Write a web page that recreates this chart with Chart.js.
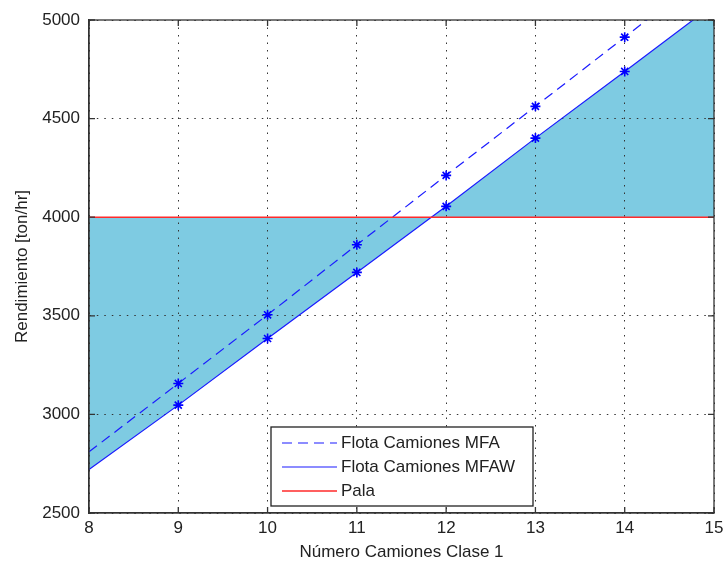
<!DOCTYPE html>
<html>
<head>
<meta charset="utf-8">
<script src="https://cdn.jsdelivr.net/npm/chart.js@4"></script>
<style>
	html, body { margin: 0; padding: 0; background: #fff; }
	#wrap { width: 724px; height: 563px; }
</style>
</head>
<body>
<div id="wrap"><canvas id="rendimiento"></canvas></div>
<script>
const camiones = [8, 9, 10, 11, 12, 13, 14, 15];
const flotaMFA = [2810, 3157, 3505, 3860, 4212, 4562, 4913, 5265];
const flotaMFAW = [2721, 3047, 3385, 3720, 4055, 4401, 4739, 5080];
const pala = [4000, 4000, 4000, 4000, 4000, 4000, 4000, 4000];
const xTicks = [8, 9, 10, 11, 12, 13, 14, 15];
const yTicks = [2500, 3000, 3500, 4000, 4500, 5000];

const font = { family: "'Liberation Sans', Arial, sans-serif", size: 17 };
const textColor = '#222';
const toPoints = (ys) => camiones.map((x, i) => ({ x, y: ys[i] }));
// estrellas solo en los puntos interiores
const starRadius = camiones.map((x) => (x === 8 || x === 15 ? 0 : 5));

// marco completo y marcas hacia adentro, estilo matlab
const boxPlugin = {
	id: 'box',
	afterDraw(chart) {
		const { ctx, chartArea: a, scales } = chart;
		ctx.save();
		ctx.strokeStyle = '#333';
		ctx.lineWidth = 1.3;
		ctx.strokeRect(a.left, a.top, a.right - a.left, a.bottom - a.top);
		ctx.beginPath();
		xTicks.forEach((v) => {
			const px = scales.x.getPixelForValue(v);
			ctx.moveTo(px, a.bottom); ctx.lineTo(px, a.bottom - 6);
			ctx.moveTo(px, a.top); ctx.lineTo(px, a.top + 6);
		});
		yTicks.forEach((v) => {
			const py = scales.y.getPixelForValue(v);
			ctx.moveTo(a.left, py); ctx.lineTo(a.left + 6, py);
			ctx.moveTo(a.right, py); ctx.lineTo(a.right - 6, py);
		});
		ctx.stroke();
		ctx.restore();
	},
};

// leyenda dentro del area del grafico
const legendPlugin = {
	id: 'innerLegend',
	afterDraw(chart) {
		const { ctx } = chart;
		const x0 = 271, y0 = 427, w = 262, h = 79;
		ctx.save();
		ctx.fillStyle = '#fff';
		ctx.fillRect(x0, y0, w, h);
		ctx.strokeStyle = '#222';
		ctx.lineWidth = 1.3;
		ctx.strokeRect(x0, y0, w, h);
		ctx.font = `${font.size}px ${font.family}`;
		ctx.textBaseline = 'middle';
		chart.data.datasets.forEach((ds, i) => {
			const y = y0 + 16 + i * 24;
			ctx.beginPath();
			ctx.setLineDash(ds.borderDash || []);
			ctx.strokeStyle = ds.borderColor;
			ctx.lineWidth = ds.borderWidth;
			ctx.moveTo(x0 + 11, y);
			ctx.lineTo(x0 + 66, y);
			ctx.stroke();
			ctx.setLineDash([]);
			ctx.fillStyle = textColor;
			ctx.fillText(ds.label, x0 + 70, y);
		});
		ctx.restore();
	},
};

new Chart(document.getElementById('rendimiento'), {
	type: 'line',
	data: {
		datasets: [
			{
				label: 'Flota Camiones MFA',
				data: toPoints(flotaMFA),
				borderColor: '#1a1aff',
				borderWidth: 1.2,
				borderDash: [10, 6],
				pointStyle: 'star',
				pointRadius: starRadius,
				pointBorderColor: '#0000ff',
				pointBorderWidth: 1.6,
				fill: false,
				order: 1,
			},
			{
				label: 'Flota Camiones MFAW',
				data: toPoints(flotaMFAW),
				borderColor: '#1a1aff',
				borderWidth: 1.2,
				pointStyle: 'star',
				pointRadius: starRadius,
				pointBorderColor: '#0000ff',
				pointBorderWidth: 1.6,
				backgroundColor: 'rgb(126, 203, 226)',
				fill: { target: 2 },
				order: 2,
			},
			{
				label: 'Pala',
				data: toPoints(pala),
				borderColor: '#ff2a2a',
				borderWidth: 1.6,
				pointRadius: 0,
				fill: false,
				order: 0,
			},
		],
	},
	options: {
		responsive: true,
		maintainAspectRatio: false,
		animation: false,
		events: [],
		layout: { padding: { top: 20, right: 0, left: 0, bottom: 0 } },
		plugins: {
			legend: { display: false },
			tooltip: { enabled: false },
			filler: { drawTime: 'beforeDraw' },
		},
		scales: {
			x: {
				type: 'linear',
				min: 8,
				max: 15,
				afterFit: (scale) => {
					scale.height = 50;
					scale.paddingRight = 10;
				},
				afterBuildTicks: (scale) => { scale.ticks = xTicks.map((value) => ({ value })); },
				ticks: { font, color: textColor, padding: 5 },
				grid: { color: '#333', lineWidth: 1, drawTicks: false, tickLength: 0 },
				border: { display: true, color: '#333', width: 1.3, dash: [1.5, 6] },
				title: { display: true, text: 'Número Camiones Clase 1', font, color: textColor, padding: { top: 13, bottom: 0 } },
			},
			y: {
				min: 2500,
				max: 5000,
				afterFit: (scale) => { scale.width = 89; },
				afterBuildTicks: (scale) => { scale.ticks = yTicks.map((value) => ({ value })); },
				ticks: { font, color: textColor, padding: 9, callback: (v) => String(v) },
				grid: { color: '#333', lineWidth: 1, drawTicks: false, tickLength: 0 },
				border: { display: true, color: '#333', width: 1.3, dash: [1.5, 6] },
				title: { display: true, text: 'Rendimiento [ton/hr]', font, color: textColor, padding: { top: 12, bottom: 0 } },
			},
		},
	},
	plugins: [boxPlugin, legendPlugin],
});
</script>
</body>
</html>
